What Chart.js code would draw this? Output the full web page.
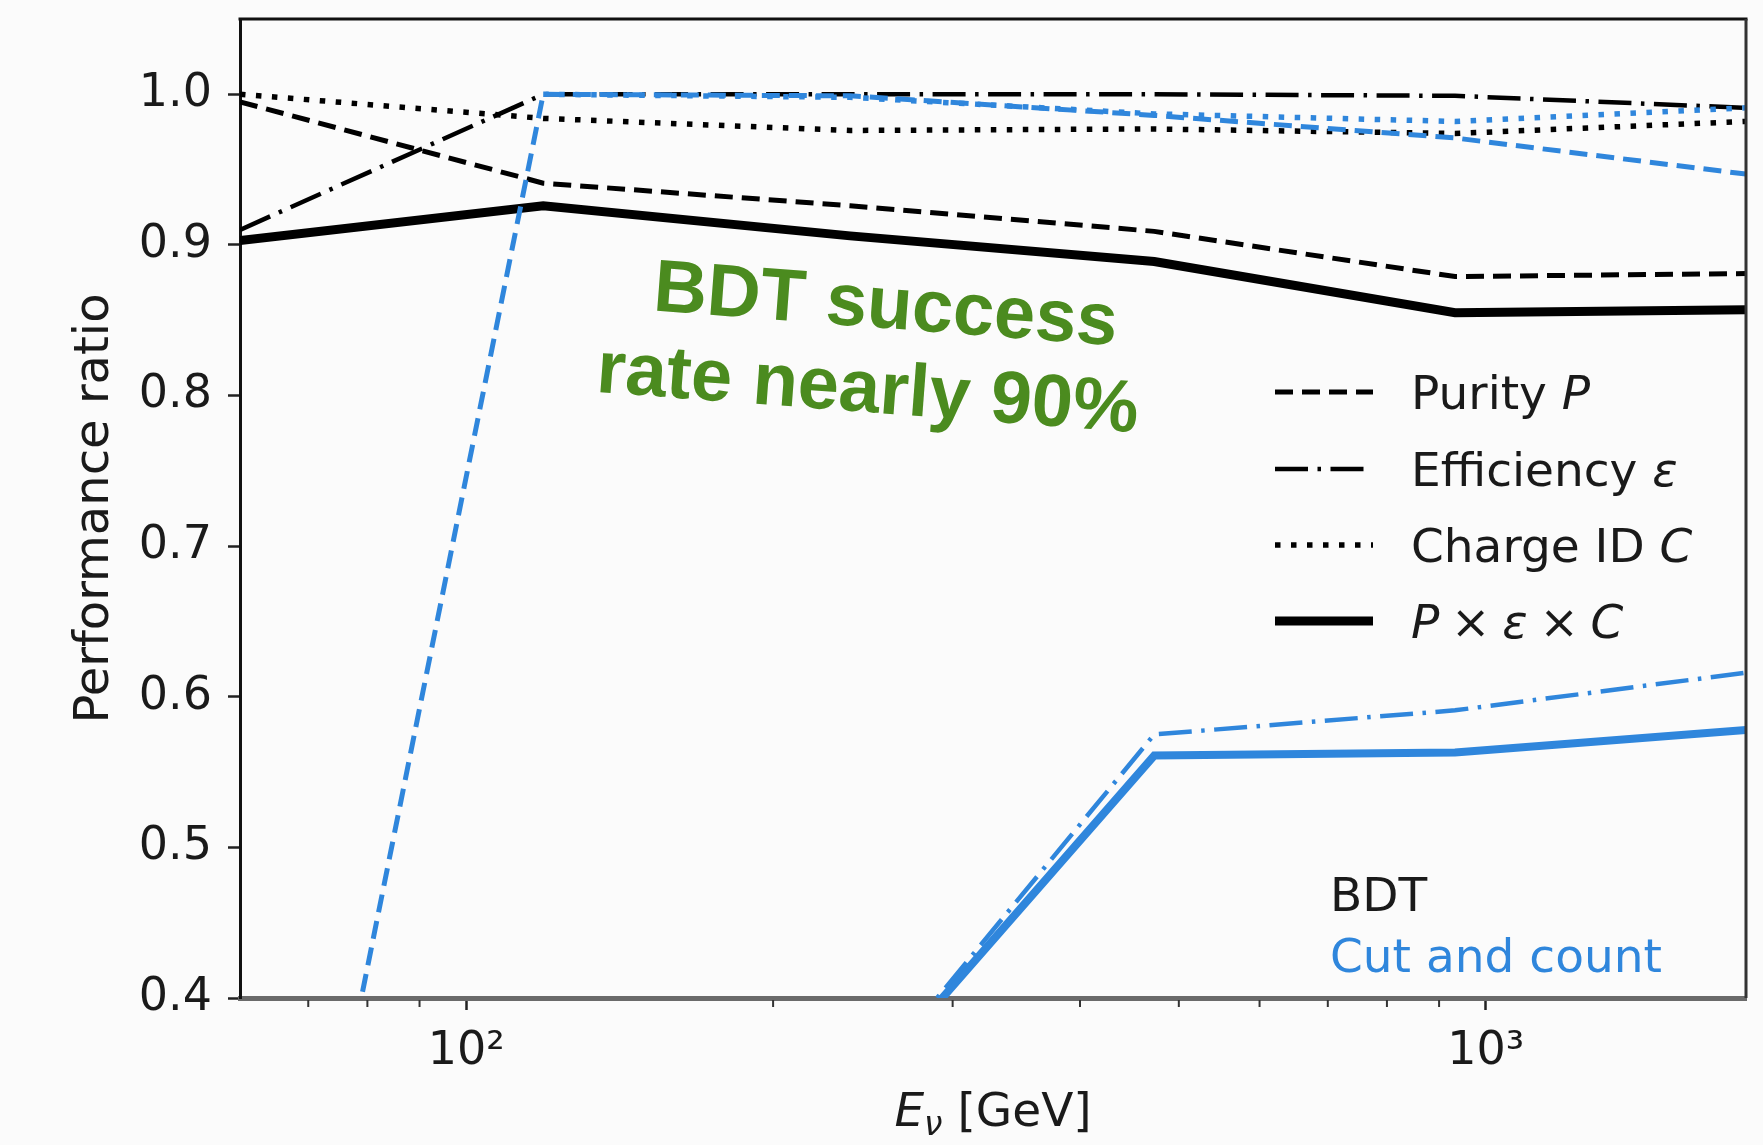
<!DOCTYPE html>
<html>
<head>
<meta charset="utf-8">
<script src="https://cdn.jsdelivr.net/npm/chart.js@4.4.1/dist/chart.umd.min.js"></script>
<style>
  html, body { margin: 0; padding: 0; background: #fbfbfb; }
  canvas { display: block; }
</style>
</head>
<body>
<canvas id="c" width="1763" height="1145"></canvas>
<script>
// ---------------- data ----------------
const energies = [60, 119, 238, 473, 933, 1800];          // E_nu [GeV]

const bdtPurity     = [0.995, 0.941, 0.926, 0.909, 0.879, 0.881];
const bdtEfficiency = [0.910, 1.000, 1.000, 1.000, 0.999, 0.991];
const bdtChargeId   = [1.000, 0.984, 0.976, 0.977, 0.974, 0.982];
const bdtProduct    = [0.903, 0.926, 0.906, 0.889, 0.855, 0.857];

const ccPurity      = [0.000, 1.000, 0.999, 0.986, 0.971, 0.947];
const ccEfficiency  = [0.000, 0.120, 0.330, 0.575, 0.591, 0.616];
const ccChargeId    = [null,  1.000, 0.998, 0.987, 0.982, 0.991];
const ccProduct     = [0.000, 0.120, 0.330, 0.561, 0.563, 0.578];

const yTickValues   = [0.4, 0.5, 0.6, 0.7, 0.8, 0.9, 1.0];
const xMajorTicks   = [100, 1000];
const xMajorLabels  = ['10²', '10³'];
const xMinorTicks   = [70, 80, 90, 200, 300, 400, 500, 600, 700, 800, 900];

const legendEntries = [
  [['Purity ', false], ['P', true]],
  [['Efficiency ', false], ['ε', true]],
  [['Charge ID ', false], ['C', true]],
  [['P', true], ['\u2005×\u2005', false], ['ε', true], ['\u2005×\u2005', false], ['C', true]]
];
const methodLabels = ['BDT', 'Cut and count'];
const annotationLines = ['BDT success', 'rate nearly 90%'];

// ---------------- styles ----------------
const BLACK = '#000000';
const BLUE = '#2f86dc';
const GREEN = '#4b8b1f';
const TEXT = '#1a1a1a';
const STYLE = {
  purity:     { dash: [18, 9],            width: 5 },
  efficiency: { dash: [33, 9.5, 3.5, 9.5], width: 4.5 },
  charge:     { dash: [5.5, 10.5],        width: 5.5 },
  product:    { dash: [],                 width: 9 }
};

function pts(vals) { return energies.map((e, i) => ({ x: e, y: vals[i] })); }
function ds(label, vals, color, st, w) {
  return {
    label, data: pts(vals), borderColor: color, backgroundColor: color,
    borderWidth: w || st.width, borderDash: st.dash, borderCapStyle: 'butt',
    borderJoinStyle: 'miter', pointRadius: 0, tension: 0, fill: false,
    spanGaps: false, clip: 0
  };
}

const datasets = [
  ds('CC purity', ccPurity, BLUE, STYLE.purity),
  ds('CC charge', ccChargeId, BLUE, STYLE.charge),
  ds('CC efficiency', ccEfficiency, BLUE, STYLE.efficiency),
  ds('CC product', ccProduct, BLUE, STYLE.product, 8),
  ds('BDT purity', bdtPurity, BLACK, STYLE.purity),
  ds('BDT efficiency', bdtEfficiency, BLACK, STYLE.efficiency),
  ds('BDT charge', bdtChargeId, BLACK, STYLE.charge),
  ds('BDT product', bdtProduct, BLACK, STYLE.product)
];

// ---------------- plugins ----------------
const bgPlugin = {
  id: 'bg',
  beforeDraw(chart) {
    const ctx = chart.ctx;
    ctx.save();
    ctx.fillStyle = '#fbfbfb';
    ctx.fillRect(0, 0, chart.width, chart.height);
    ctx.restore();
  }
};

function drawRich(ctx, pieces, x, y, size, color) {
  let cx = x;
  ctx.fillStyle = color;
  ctx.textBaseline = 'alphabetic';
  ctx.textAlign = 'left';
  for (const [t, it] of pieces) {
    ctx.font = (it ? 'italic ' : '') + size + 'px "DejaVu Sans"';
    ctx.fillText(t, cx, y);
    cx += ctx.measureText(t).width;
  }
}

const overlayPlugin = {
  id: 'overlay',
  afterDraw(chart) {
    const ctx = chart.ctx;
    const a = chart.chartArea;
    const xs = chart.scales.x;
    ctx.save();

    // top and right spines
    ctx.lineCap = 'butt';
    ctx.strokeStyle = '#111';
    ctx.lineWidth = 3;
    ctx.beginPath();
    ctx.moveTo(a.left - 1.5, a.top);
    ctx.lineTo(a.right + 1.5, a.top);
    ctx.stroke();
    ctx.strokeStyle = '#333';
    ctx.beginPath();
    ctx.moveTo(a.right, a.top);
    ctx.lineTo(a.right, a.bottom);
    ctx.stroke();

    // minor x ticks
    ctx.strokeStyle = '#333';
    ctx.lineWidth = 2;
    for (const v of xMinorTicks) {
      const px = xs.getPixelForValue(v);
      ctx.beginPath();
      ctx.moveTo(px, a.bottom + 2);
      ctx.lineTo(px, a.bottom + 9);
      ctx.stroke();
    }

    // legend (inside axes, right side)
    const styles = [STYLE.purity, STYLE.efficiency, STYLE.charge, STYLE.product];
    const rowY = [392, 469, 545, 621];
    const hx0 = 1275, hx1 = 1373, tx = 1411;
    legendEntries.forEach((pieces, i) => {
      const st = styles[i];
      ctx.strokeStyle = BLACK;
      ctx.lineWidth = st.width;
      ctx.setLineDash(st.dash);
      ctx.beginPath();
      ctx.moveTo(hx0, rowY[i]);
      ctx.lineTo(hx1, rowY[i]);
      ctx.stroke();
      ctx.setLineDash([]);
      drawRich(ctx, pieces, tx, rowY[i] + 17, 47, TEXT);
    });

    // method labels
    ctx.textAlign = 'left';
    ctx.textBaseline = 'alphabetic';
    ctx.font = '47px "DejaVu Sans"';
    ctx.fillStyle = TEXT;
    ctx.fillText(methodLabels[0], 1330, 911);
    ctx.fillStyle = BLUE;
    ctx.fillText(methodLabels[1], 1330, 972);

    // green annotation
    ctx.fillStyle = GREEN;
    ctx.font = 'bold 74px "Liberation Sans"';
    ctx.textAlign = 'center';
    const ang = 0.075;
    const centers = [[884, 328], [866, 412]];
    annotationLines.forEach((t, i) => {
      ctx.save();
      ctx.translate(centers[i][0], centers[i][1]);
      ctx.rotate(ang);
      ctx.fillText(t, 0, 0);
      ctx.restore();
    });

    // x axis title: E_nu [GeV]
    const size = 47;
    ctx.textAlign = 'left';
    ctx.font = 'italic ' + size + 'px "DejaVu Sans"';
    const wE = ctx.measureText('E').width;
    ctx.font = 'italic ' + Math.round(size * 0.7) + 'px "DejaVu Sans"';
    const wNu = ctx.measureText('ν').width;
    ctx.font = size + 'px "DejaVu Sans"';
    const wRest = ctx.measureText(' [GeV]').width;
    const total = wE + wNu + wRest;
    let x0 = (a.left + a.right) / 2 - total / 2;
    const base = 1126;
    ctx.fillStyle = TEXT;
    ctx.font = 'italic ' + size + 'px "DejaVu Sans"';
    ctx.fillText('E', x0, base);
    ctx.font = 'italic ' + Math.round(size * 0.7) + 'px "DejaVu Sans"';
    ctx.fillText('ν', x0 + wE, base + 9);
    ctx.font = size + 'px "DejaVu Sans"';
    ctx.fillText(' [GeV]', x0 + wE + wNu, base);

    ctx.restore();
  }
};

// ---------------- chart ----------------
new Chart(document.getElementById('c'), {
  type: 'line',
  data: { datasets },
  plugins: [bgPlugin, overlayPlugin],
  options: {
    responsive: false,
    animation: false,
    devicePixelRatio: 1,
    layout: { padding: { top: 19, right: 17, left: 0, bottom: 0 } },
    plugins: { legend: { display: false }, tooltip: { enabled: false } },
    elements: { point: { radius: 0 } },
    scales: {
      x: {
        type: 'logarithmic',
        min: 60, max: 1800,
        afterBuildTicks: s => { s.ticks = xMajorTicks.map(v => ({ value: v, major: true })); },
        afterFit: s => { s.height = 147; s.paddingLeft = 0; s.paddingRight = 0; },
        ticks: {
          callback: v => xMajorLabels[xMajorTicks.indexOf(v)],
          font: { family: 'DejaVu Sans', size: 46 },
          color: TEXT, padding: 14, maxRotation: 0, autoSkip: false
        },
        grid: { drawOnChartArea: false, drawTicks: true, tickLength: 12, tickWidth: 2.5, tickColor: '#222' },
        border: { display: true, color: '#6a6a6a', width: 5 }
      },
      y: {
        min: 0.4, max: 1.05,
        afterBuildTicks: s => { s.ticks = yTickValues.map(v => ({ value: v })); },
        afterFit: s => { s.width = 240; s.paddingTop = 0; s.paddingBottom = 0; },
        ticks: {
          callback: v => Number(v).toFixed(1),
          font: { family: 'DejaVu Sans', size: 46 },
          color: TEXT, padding: 16
        },
        grid: { drawOnChartArea: false, drawTicks: true, tickLength: 12, tickWidth: 2.5, tickColor: '#222' },
        border: { display: true, color: '#111', width: 3 },
        title: {
          display: true, text: 'Performance ratio',
          font: { family: 'DejaVu Sans', size: 48 }, color: TEXT,
          padding: { top: 67, bottom: 0 }
        }
      }
    }
  }
});
</script>
</body>
</html>
